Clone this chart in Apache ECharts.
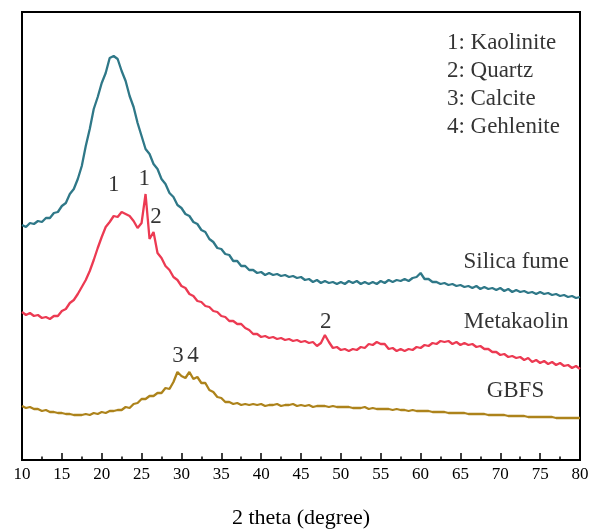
<!DOCTYPE html>
<html>
<head>
<meta charset="utf-8">
<script src="https://cdn.jsdelivr.net/npm/echarts@6/dist/echarts.min.js"></script>
<style>html,body{margin:0;padding:0;background:#fff;}#c{width:591px;height:530px;}</style>
</head>
<body>
<div id="c"></div>
<script>
// 2 theta from 10 to 80 degrees, step 0.5
const twoTheta = [];
for (let i = 0; i <= 140; i++) twoTheta.push(10 + i * 0.5);

const silicaFume = [
235,233,237,236,239,238,242,242,247,248,
254,257,266,271,281,294,314,331,351,363,
377,387,402,404,401,389,379,364,353,337,
324,311,306,296,291,281,276,267,263,255,
252,246,244,238,236,230,228,221,218,212,
211,206,205,199,199,194,194,190,190,187,
188,185,187,185,186,184,185,183,184,182,
183,180,181,178,180,177,179,177,178,176,
178,176,179,177,179,176,178,176,178,176,
179,177,180,178,180,179,181,179,182,183,
187,181,181,178,178,176,177,175,176,174,
175,173,174,172,174,171,173,171,172,170,
172,169,171,168,170,168,169,167,168,166,
168,166,167,165,166,164,165,163,164,162,
163];

const metakaolin = [
148,145,147,144,145,142,143,141,144,144,
149,151,157,160,166,173,180,189,200,212,
223,233,238,244,243,248,246,244,239,232,
237,266,221,228,207,202,194,190,183,180,
174,172,166,164,159,158,154,153,149,148,
144,143,139,139,136,136,132,130,126,126,
123,124,122,123,121,122,120,121,119,120,
118,119,117,118,114,117,125,118,112,113,
110,111,109,111,110,113,112,116,115,118,
116,116,111,112,109,111,109,111,110,113,
112,115,114,117,116,119,118,119,116,118,
115,117,115,116,113,114,111,111,108,108,
105,106,103,104,102,103,100,102,98,100,
97,99,96,98,95,97,94,95,92,94,
91];

const gbfs = [
54,52,53,51,51,49,50,48,48,47,
47,46,46,45,45,45,46,45,47,46,
48,47,49,49,50,50,53,52,56,57,
61,61,64,64,67,67,72,71,78,88,
84,82,88,81,83,77,77,70,68,63,
62,58,58,56,57,55,56,55,56,55,
56,54,55,55,56,54,55,55,56,54,
55,54,55,53,54,54,54,53,54,53,
53,53,53,52,52,52,53,51,52,51,
51,51,51,50,51,50,50,49,50,49,
49,49,49,48,48,48,48,47,47,47,
47,47,46,46,46,46,46,45,45,45,
45,45,44,44,44,44,44,43,43,43,
43,43,43,43,42,42,42,42,42,42,
42];

// annotations: [2theta, intensity, text]
const peakLabels = [
  [21.5, 275, '1'],
  [25.35, 281, '1'],
  [26.8, 243, '2'],
  [48.1, 138, '2'],
  [29.57, 104, '3'],
  [31.45, 104, '4']
];
const seriesNames = [
  [72.0, 198, 'Silica fume'],
  [72.0, 138, 'Metakaolin'],
  [71.9, 69, 'GBFS']
];
const phaseKey = [
  [63.3, 417, '1: Kaolinite'],
  [63.3, 389, '2: Quartz'],
  [63.3, 361, '3: Calcite'],
  [63.3, 333, '4: Gehlenite']
];

const FONT = '"Liberation Serif", "Times New Roman", serif';
function zip(xs, ys) { return xs.map((x, i) => [x, ys[i]]); }
function labelSeries(arr, align) {
  return {
    type: 'scatter', symbolSize: 1, silent: true,
    itemStyle: { color: 'rgba(0,0,0,0)' },
    data: arr.map(a => ({ value: [a[0], a[1]], name: a[2] })),
    label: {
      show: true, position: 'inside', align: align, verticalAlign: 'middle',
      formatter: p => p.name, color: '#000', fontSize: 23, fontFamily: FONT
    },
    z: 5
  };
}

const chart = echarts.init(document.getElementById('c'), null, { renderer: 'canvas' });
chart.setOption({
  animation: false,
  backgroundColor: '#fff',
  grid: { left: 22, right: 11, top: 12, bottom: 70, show: true, borderColor: '#000', borderWidth: 2, containLabel: false, outerBoundsMode: 'none' },
  xAxis: {
    type: 'value', min: 10, max: 80, interval: 5,
    name: '2 theta (degree)', nameLocation: 'middle', nameGap: 47,
    nameTextStyle: { fontSize: 22, fontFamily: FONT, color: '#000' },
    axisLine: { show: true, lineStyle: { color: '#000', width: 2 } },
    axisTick: { show: true, inside: true, length: 7, lineStyle: { color: '#000', width: 1.5 } },
    minorTick: { show: true, splitNumber: 2, length: 3.5, lineStyle: { color: '#000', width: 1.5 } },
    axisLabel: { fontSize: 17, fontFamily: FONT, color: '#000', margin: 6 },
    splitLine: { show: false }
  },
  yAxis: {
    type: 'value', min: 0, max: 448,
    axisLine: { show: true, lineStyle: { color: '#000', width: 2 } },
    axisTick: { show: false }, axisLabel: { show: false }, splitLine: { show: false }
  },
  series: [
    { type: 'line', name: 'Silica fume', data: zip(twoTheta, silicaFume), showSymbol: false, lineStyle: { color: '#2f7888', width: 2.3 }, z: 3 },
    { type: 'line', name: 'Metakaolin', data: zip(twoTheta, metakaolin), showSymbol: false, lineStyle: { color: '#ec3a52', width: 2.3 }, z: 3 },
    { type: 'line', name: 'GBFS', data: zip(twoTheta, gbfs), showSymbol: false, lineStyle: { color: '#ad831b', width: 2.3 }, z: 3 },
    labelSeries(peakLabels, 'center'),
    labelSeries(seriesNames, 'center'),
    labelSeries(phaseKey, 'left')
  ]
});
</script>
</body>
</html>
